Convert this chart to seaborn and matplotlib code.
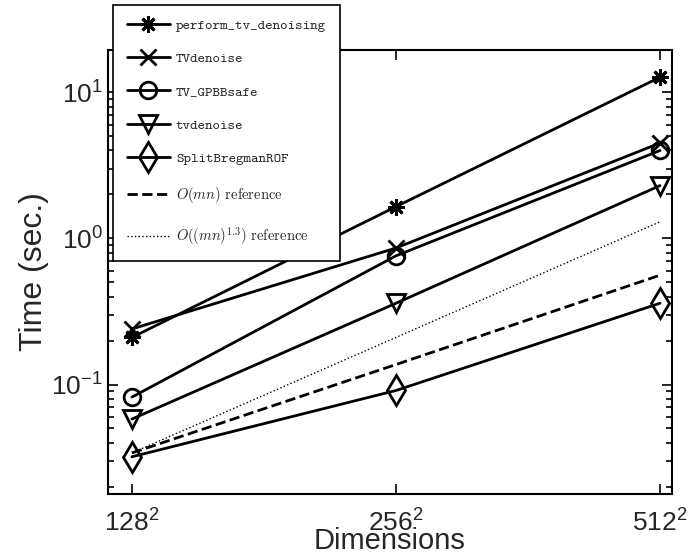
import matplotlib
matplotlib.use("Agg")
import matplotlib.pyplot as plt
import matplotlib.ticker as mticker
import seaborn as sns
import pandas as pd

# problem sizes (pixels) and timings
sizes = [128**2, 256**2, 512**2]
size_labels = ["128$^2$", "256$^2$", "512$^2$"]

t_perform = [0.21, 1.65, 12.7]
t_tvdenoise_cap = [0.24, 0.86, 4.5]
t_gpbb = [0.082, 0.76, 4.0]
t_tvdenoise = [0.058, 0.36, 2.3]
t_splitbregman = [0.032, 0.091, 0.36]
t_ref_lin = [0.034, 0.137, 0.56]
t_ref_13 = [0.034, 0.21, 1.3]

series = [
    ("perform_tv_denoising", t_perform, dict(marker=(8, 2, 0), markersize=12)),
    ("TVdenoise", t_tvdenoise_cap, dict(marker="x", markersize=11)),
    ("TV_GPBBsafe", t_gpbb, dict(marker="o", markersize=12)),
    ("tvdenoise", t_tvdenoise, dict(marker="v", markersize=13)),
    ("SplitBregmanROF", t_splitbregman, dict(marker="d", markersize=15)),
    (r"$O(mn)$ reference", t_ref_lin, dict(linestyle="--")),
    (r"$O((mn)^{1.3})$ reference", t_ref_13, dict(linestyle=":", linewidth=1.0)),
]

sns.set_style("ticks")
plt.rcParams["font.family"] = ["Liberation Sans", "DejaVu Sans"]
plt.rcParams["mathtext.fontset"] = "custom"
plt.rcParams["mathtext.rm"] = "Liberation Sans"
plt.rcParams["mathtext.it"] = "Liberation Sans"

fig = plt.figure(figsize=(6.9, 5.57), dpi=100)
ax = fig.add_axes([108 / 690, 1 - 494 / 557, (672 - 108) / 690, (494 - 50) / 557])

for name, vals, style in series:
    df = pd.DataFrame({"size": sizes, "time": vals})
    kw = dict(color="k", linewidth=2, markerfacecolor="none",
              markeredgecolor="k", markeredgewidth=2)
    kw.update(style)
    sns.lineplot(data=df, x="size", y="time", ax=ax, label=name, **kw)

ax.set_xscale("log")
ax.set_yscale("log")
ax.set_xlim(14450, 279200)
ax.set_ylim(0.0178, 19.5)

ax.set_xticks(sizes)
ax.set_xticklabels(size_labels)
ax.xaxis.set_minor_locator(mticker.NullLocator())
ax.yaxis.set_major_locator(mticker.LogLocator(base=10))
ax.yaxis.set_minor_locator(mticker.LogLocator(base=10, subs=range(2, 10)))
ax.yaxis.set_minor_formatter(mticker.NullFormatter())

ax.tick_params(which="both", direction="in", top=True, right=True,
               labelsize=19, width=1.2, color="k")
ax.tick_params(which="major", length=7)
ax.tick_params(which="minor", length=4.5)
ax.tick_params(axis="x", pad=11)
for s in ax.spines.values():
    s.set_linewidth(1.5)
    s.set_color("k")

ax.set_xlabel("Dimensions", fontsize=21, labelpad=-7)
ax.set_ylabel("Time (sec.)", fontsize=23, labelpad=2)

leg = ax.legend(loc="upper left", bbox_to_anchor=(113 / 690, 1 - 5 / 557),
                bbox_transform=fig.transFigure, borderaxespad=0,
                fancybox=False, edgecolor="k", framealpha=1,
                handlelength=3.0, handletextpad=0.45, labelspacing=1.42,
                borderpad=0.95,
                prop={"family": ["cmtt10", "DejaVu Sans Mono"], "size": 10.3})
leg.get_frame().set_linewidth(1.2)
for txt in leg.get_texts()[5:]:
    txt.set_fontfamily(["cmr10", "DejaVu Serif"])
    txt.set_math_fontfamily("cm")
    txt.set_fontsize(10.5)

fig.savefig("out.png", dpi=100)
